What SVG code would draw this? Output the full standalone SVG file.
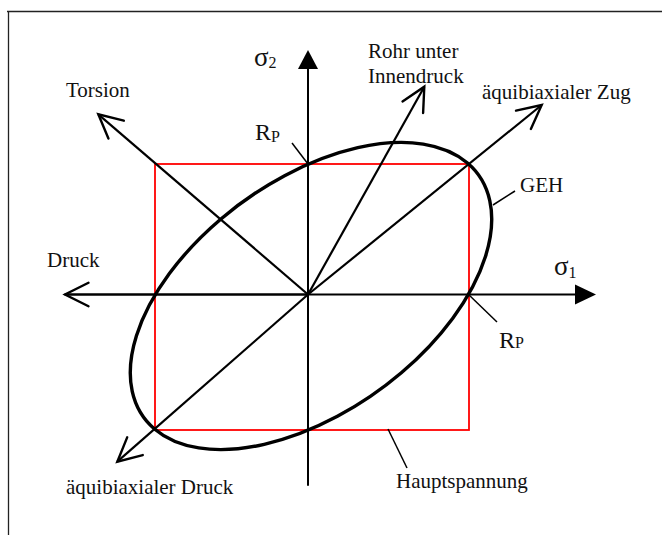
<svg xmlns="http://www.w3.org/2000/svg" width="662" height="535" viewBox="0 0 662 535">
<style>
text{font-family:"Liberation Serif","Times New Roman",serif;fill:#111}
.lbl{font-size:21px}
.big{font-size:24px}
.sig{font-size:27px}
.sub{font-size:16px}
.ln{stroke:#000;stroke-width:2;fill:none;stroke-linecap:round}
.arr{stroke:#000;stroke-width:2.2;fill:none;marker-end:url(#open)}
.lead{stroke:#000;stroke-width:1.5;fill:none}
</style>
<defs>
<marker id="open" markerUnits="userSpaceOnUse" markerWidth="40" markerHeight="40" refX="0" refY="0" orient="auto" viewBox="-30 -20 40 40" overflow="visible">
<path d="M -23.5 -11.8 L 0 0 L -23.5 11.8" fill="none" stroke="#000" stroke-width="2.4" stroke-linecap="round" stroke-linejoin="miter"/>
</marker>
</defs>
<g id="frame">
<path d="M 7 11.5 H 662 M 8.5 11.5 V 535" stroke="#222" stroke-width="1.3" fill="none"/>
</g>
<g id="hauptspannung-rect">
<rect x="155" y="164" width="314" height="266" fill="none" stroke="#ff0000" stroke-width="1.8"/>
</g>
<g id="geh-ellipse">
<ellipse cx="0" cy="0" rx="1.41421" ry="0.8165" transform="translate(311,296) scale(156.5,-133) rotate(45)" fill="none" stroke="#000" stroke-width="3.4" vector-effect="non-scaling-stroke"/>
</g>
<g id="connectors">
<line class="ln" x1="65" y1="294.5" x2="577" y2="294.5"/>
<polygon points="575,284.5 596,294.5 575,304.5" fill="#000"/>
<line class="ln" x1="308" y1="485" x2="308" y2="67"/>
<polygon points="298,69 308,50 318,69" fill="#000"/>
<line class="arr" x1="308" y1="294.5" x2="65" y2="294.5"/>
<line class="arr" x1="308" y1="294.5" x2="98.3" y2="114.3"/>
<line class="arr" x1="308" y1="294.5" x2="424.3" y2="86.7"/>
<line class="arr" x1="308" y1="294.5" x2="541.7" y2="105"/>
<line class="arr" x1="308" y1="294.5" x2="117.3" y2="461.7"/>
<line class="lead" x1="292" y1="143" x2="308" y2="164"/>
<line class="lead" x1="468" y1="294" x2="497" y2="322"/>
<line class="lead" x1="515" y1="191" x2="493" y2="205"/>
<line class="lead" x1="388" y1="429" x2="407" y2="468"/>
</g>
<g id="labels">
<text class="sig" x="254" y="66">σ<tspan class="sub" dy="2">2</tspan></text>
<text class="sig" x="554" y="275">σ<tspan class="sub" dy="3">1</tspan></text>
<text class="big" x="255" y="140">R<tspan class="sub" dy="2">P</tspan></text>
<text class="big" x="499" y="348">R<tspan class="sub" dy="0">P</tspan></text>
<text class="lbl" x="368" y="58">Rohr unter</text>
<text class="lbl" x="368" y="83">Innendruck</text>
<text class="lbl" x="482" y="99">äquibiaxialer Zug</text>
<text class="lbl" x="66" y="97">Torsion</text>
<text class="lbl" x="520" y="192">GEH</text>
<text class="lbl" x="47" y="267">Druck</text>
<text class="lbl" x="66" y="494">äquibiaxialer Druck</text>
<text class="lbl" x="396" y="488">Hauptspannung</text>
</g>
</svg>
